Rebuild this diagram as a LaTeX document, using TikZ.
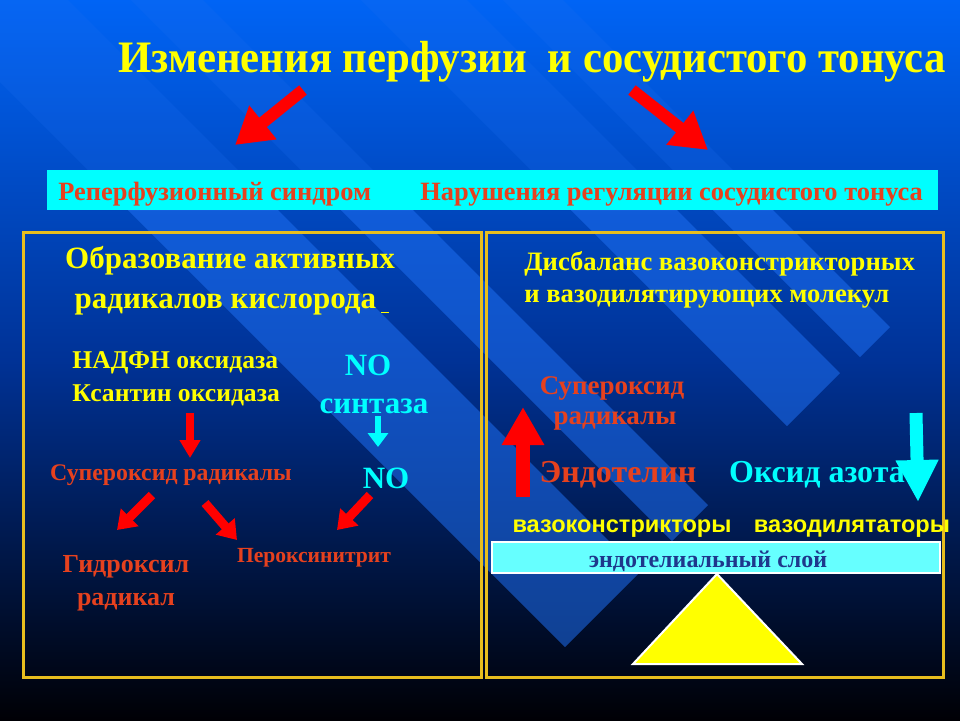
\documentclass[tikz,border=0pt]{standalone}
\usepackage{fontspec}
\setmainfont{Liberation Serif}
\setsansfont{Liberation Sans}
\newfontfamily\narrowserif[FakeStretch=0.95]{Liberation Serif}
\usetikzlibrary{arrows.meta}
\definecolor{bgtop}{RGB}{0,100,245}
\definecolor{bgmid}{RGB}{0,50,150}
\definecolor{bgbot}{RGB}{0,0,5}
\definecolor{stripeblue}{RGB}{30,110,240}
\definecolor{txtred}{RGB}{230,65,30}
\definecolor{aqua}{RGB}{0,255,255}
\definecolor{pureyellow}{RGB}{255,255,0}
\definecolor{purered}{RGB}{255,0,0}
\definecolor{panelgold}{RGB}{232,190,30}
\definecolor{layercyan}{RGB}{102,255,255}
\definecolor{layertext}{RGB}{30,55,140}
\begin{document}
\begin{tikzpicture}[x=0.5pt,y=-0.5pt,
  every node/.style={inner sep=0pt},
  stripe/.style={fill=stripeblue,opacity=0.55},
  titletext/.style={text=pureyellow,font=\narrowserif\bfseries\fontsize{22.5}{26}\selectfont},
  bartext/.style={text=txtred,font=\bfseries\fontsize{13.2}{15}\selectfont},
  yhead/.style={text=pureyellow,font=\bfseries\fontsize{15.5}{18}\selectfont},
  ytext/.style={text=pureyellow,font=\bfseries\fontsize{12.8}{14}\selectfont},
  yright/.style={text=pureyellow,font=\bfseries\fontsize{13.3}{15}\selectfont},
  rtext/.style={text=txtred,font=\bfseries\fontsize{11.9}{15}\selectfont},
  rbig/.style={text=txtred,font=\bfseries\fontsize{16}{19}\selectfont},
  ctext/.style={text=aqua,font=\bfseries\fontsize{15.5}{18}\selectfont},
  cbig/.style={text=aqua,font=\bfseries\fontsize{16}{19}\selectfont},
  sanstext/.style={text=pureyellow,font=\sffamily\bfseries\fontsize{11.8}{14}\selectfont},
  panel/.style={draw=panelgold,line width=1.5pt},
  titlearrow/.style={draw=purered,line width=6pt,-{Triangle[length=18pt,width=20.5pt]}},
  uparrow/.style={draw=purered,line width=7pt,-{Triangle[length=19pt,width=20pt]}},
  downarrow/.style={draw=aqua,line width=6.5pt,-{Triangle[length=21pt,width=20pt]}},
  smallred/.style={draw=purered,line width=4pt,-{Triangle[length=9pt,width=10pt]}},
  diagred/.style={draw=purered,line width=4.5pt,-{Triangle[length=9pt,width=12pt]}},
  smallcyan/.style={draw=aqua,line width=3pt,-{Triangle[length=7pt,width=10pt]}}]
\useasboundingbox (0,0) rectangle (960,720);
\clip (0,0) rectangle (960,720);
\shade[top color=bgtop,bottom color=bgmid] (0,0) rectangle (960,361);
\shade[top color=bgmid,bottom color=bgbot] (0,360) rectangle (960,720);
\begin{scope}
\clip (0,0) rectangle (960,210);
\foreach \px/\py/\qx/\qy in {890/327/860/357,840/373/787/426,708/505/672/541,640/572/565/647}
  \fill[stripe,opacity=0.22] (\px,\py) -- (\qx,\qy) -- (\qx-1000,\qy-1000) -- (\px-1000,\py-1000) -- cycle;
\end{scope}
\begin{scope}
\clip (0,210) rectangle (960,720);
\foreach \px/\py/\qx/\qy in {890/327/860/357,840/373/787/426,708/505/672/541,640/572/565/647}
  \fill[stripe] (\px,\py) -- (\qx,\qy) -- (\qx-1000,\qy-1000) -- (\px-1000,\py-1000) -- cycle;
\end{scope}

\node[titletext,anchor=base] (title) at (532,72) {Изменения перфузии\ \ и сосудистого тонуса};

\fill[aqua] (47,170) rectangle (938,210);
\node[bartext,anchor=base west] (reper) at (58,200) {Реперфузионный синдром};
\node[bartext,anchor=base west] (narush) at (420,200) {Нарушения регуляции сосудистого тонуса};

\coordinate (ta1) at (303,90); \coordinate (tb1) at (235,145);
\coordinate (ta2) at (632,90); \coordinate (tb2) at (708,150);
\draw[titlearrow] (ta1) -- (tb1);
\draw[titlearrow] (ta2) -- (tb2);

\draw[panel] (23,232) rectangle (481,677);
\draw[panel] (486,232) rectangle (943,677);

\node[yhead,anchor=base] (obraz1) at (230,268) {Образование активных};
\node[yhead,anchor=base] (obraz2) at (232,308) {радикалов кислорода\,\rule[-2.5pt]{4pt}{0.7pt}};
\node[ytext,anchor=base west] (nadph) at (72,368) {НАДФН оксидаза};
\node[ytext,anchor=base west] (ksant) at (72,401) {Ксантин оксидаза};
\node[ctext,anchor=base] (no1) at (368,375) {NO};
\node[ctext,anchor=base] (sint) at (374,413) {синтаза};
\node[rtext,anchor=base] (superox) at (171,480) {Супероксид радикалы};
\node[ctext,anchor=base] (no2) at (386,488) {NO};
\node[rtext,font=\bfseries\fontsize{13}{15}\selectfont,anchor=base] (gidr1) at (126,572) {Гидроксил};
\node[rtext,font=\bfseries\fontsize{13}{15}\selectfont,anchor=base] (gidr2) at (126,605) {радикал};
\node[rtext,font=\bfseries\fontsize{10.8}{13}\selectfont,anchor=base] (perox) at (314,562) {Пероксинитрит};

\coordinate (s1) at (190,413); \coordinate (e1) at (190,458);
\coordinate (s2) at (378,416); \coordinate (e2) at (378,447);
\draw[smallred] (s1) -- (e1);
\draw[smallcyan] (s2) -- (e2);
\coordinate (d1a) at (152,495); \coordinate (d1b) at (117,530);
\coordinate (d2a) at (205,503); \coordinate (d2b) at (237,540);
\coordinate (d3a) at (370,495); \coordinate (d3b) at (337,530);
\foreach \i in {1,2,3}
  \draw[diagred] (d\i a) -- (d\i b);

\node[yright,anchor=base west] (disb1) at (524,270) {Дисбаланс вазоконстрикторных};
\node[yright,anchor=base west] (disb2) at (524,302) {и вазодилятирующих молекул};
\node[rtext,font=\bfseries\fontsize{13.5}{16}\selectfont,anchor=base] (sup1) at (612,394) {Супероксид};
\node[rtext,font=\bfseries\fontsize{13.5}{16}\selectfont,anchor=base] (sup2) at (615,424) {радикалы};
\node[rbig,anchor=base] (endot) at (618,482) {Эндотелин};
\node[cbig,anchor=base] (oksid) at (817,482) {Оксид азота};
\coordinate (ua) at (523,497); \coordinate (ub) at (523,407);
\coordinate (da) at (916,413); \coordinate (db) at (918,502);
\draw[uparrow] (ua) -- (ub);
\draw[downarrow] (da) -- (db);
\node[sanstext,anchor=base] (vasoc) at (622,532) {вазоконстрикторы};
\node[sanstext,anchor=base] (vasod) at (852,532) {вазодилятаторы};

\filldraw[fill=layercyan,draw=white,line width=1pt] (492,542) rectangle (940,573);
\node[text=layertext,font=\bfseries\fontsize{12}{14}\selectfont,anchor=base] (layer) at (708,567) {эндотелиальный слой};
\filldraw[fill=pureyellow,draw=white,line width=1pt] (717,574) -- (802,664) -- (633,664) -- cycle;
\end{tikzpicture}
\end{document}
